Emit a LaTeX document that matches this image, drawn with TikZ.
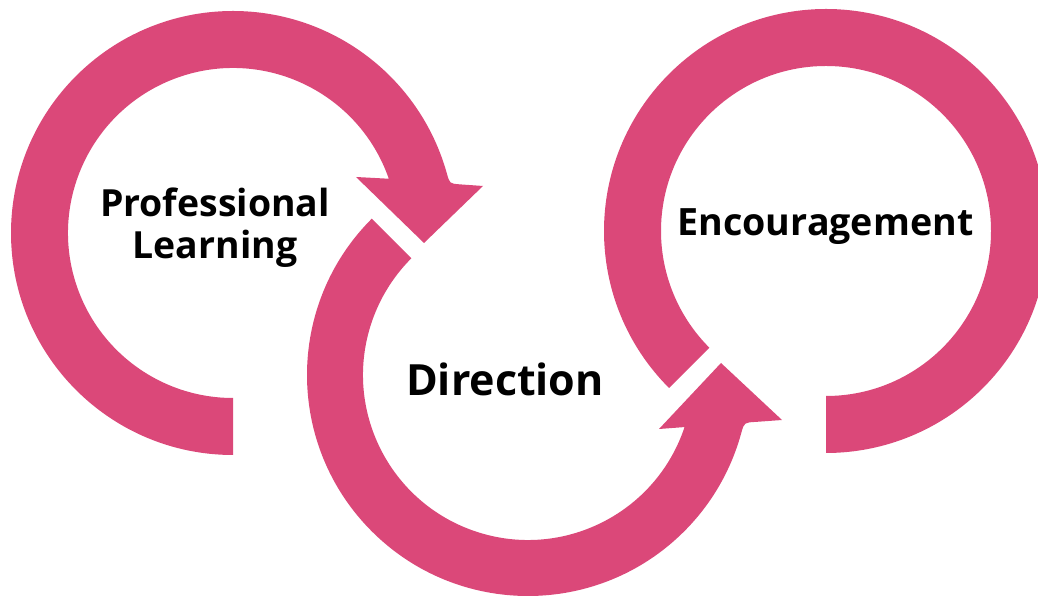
\documentclass[tikz,border=0pt]{standalone}
\usepackage{fontspec}
\setmainfont{Open Sans}
\usetikzlibrary{calc}
\definecolor{arcpink}{RGB}{219,72,121}
\begin{document}
\begin{tikzpicture}[x=1pt,y=1pt,
  band/.style={fill=arcpink,draw=none},
  lbl/.style={font=\bfseries\fontsize{37.4}{42}\selectfont, text=black, inner sep=0pt, align=center, anchor=base}]
\useasboundingbox (0,0) rectangle (1038,596);
\clip (0,0) rectangle (1038,596);
\coordinate (c1) at (233,363);
\coordinate (c2) at (528,221);
\coordinate (c3) at (826,365);
% arc 1: Professional Learning
\fill[band] ($(c1)+(270:222)$) arc[start angle=270,end angle=15.7,radius=222pt]
  .. controls (449.6,412.5) .. (459,411.7) -- (483,410) -- (424,353) -- (356,419)
  -- ($(c1)+(19.2:165)$) arc[start angle=19.2,end angle=270,radius=165pt] -- cycle;
% arc 2: Direction
\fill[band] ($(c2)+(135:221)$) arc[start angle=135,end angle=345,radius=221pt]
  .. controls (744.3,173.5) .. (756,174.1) -- (782,176) -- (721,233) -- (659,167)
  -- ($(c2)+(341.6:165)$) arc[start angle=341.6,end angle=135,radius=165pt] -- cycle;
% arc 3: Encouragement
\fill[band] ($(c3)+(225:222)$) arc[start angle=225,end angle=-90,radius=222pt]
  -- ($(c3)+(-90:165)$) arc[start angle=-90,end angle=225,radius=165pt] -- cycle;
% labels
\node[lbl] (pl) at (215,337) {Professional\\Learning};
\node[lbl, font=\bfseries\fontsize{43}{48}\selectfont] (dir) at (505,200) {Direction};
\node[lbl, font=\bfseries\fontsize{37.6}{42}\selectfont] (enc) at (825.5,360) {Encouragement};
\end{tikzpicture}
\end{document}
